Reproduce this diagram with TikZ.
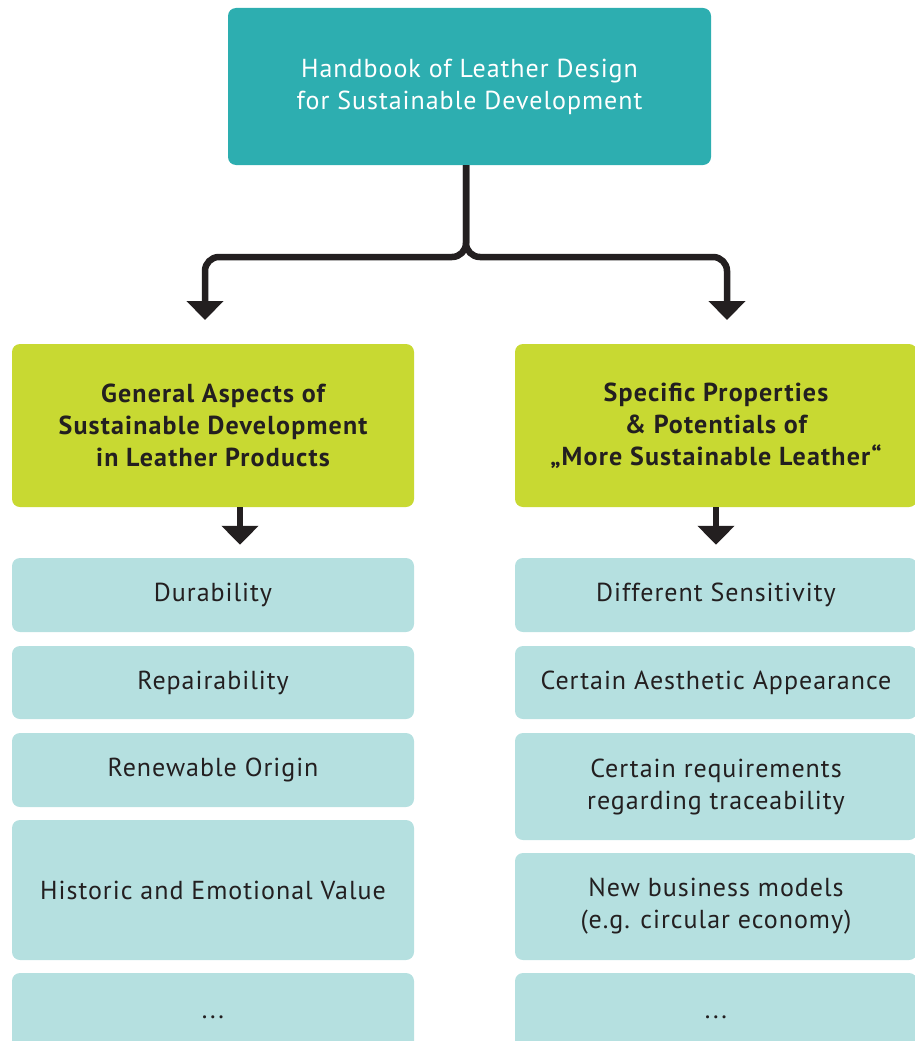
\documentclass[tikz,border=0pt]{standalone}
\usepackage{fontspec}
\setmainfont{PT Sans}[LetterSpace=3.8]
\newfontfamily\headfont{PT Sans}[LetterSpace=4.5]
\usetikzlibrary{arrows.meta,calc}
\definecolor{teal}{HTML}{2DAEB0}
\definecolor{lime}{HTML}{C8D932}
\definecolor{pale}{HTML}{B5E0E0}
\definecolor{ink}{HTML}{231F20}
\tikzset{
  box/.style={rectangle, rounded corners=8pt, inner sep=0pt, align=center, font=\fontsize{26}{32}\selectfont},
  topbox/.style={box, fill=teal, text=white, minimum width=483pt, minimum height=157pt},
  headbox/.style={box, fill=lime, text=ink, font=\headfont\fontsize{26}{32}\selectfont\bfseries, minimum width=402pt, minimum height=163pt},
  itembox/.style={box, fill=pale, text=ink, minimum width=402pt},
  bigarr/.style={draw=ink, line width=6.5pt, rounded corners=14pt, -{Triangle[width=36pt,length=19pt]}},
}
\begin{document}
\begin{tikzpicture}[x=1pt,y=-1pt]
\useasboundingbox (0,0) rectangle (915,1041);
\clip (0,0) rectangle (915,1041);
\node[topbox] (top) at (469.5,86.5) {Handbook of Leather Design\\for Sustainable Development};
\node[headbox] (gl) at (213,425.5) {General Aspects of\\Sustainable Development\\in Leather Products};
\node[headbox] (gr) at (716,425.5) {Specific Properties\\\& Potentials of\\„More Sustainable Leather“};
% left items
\node[itembox, minimum height=74pt] (l1) at (213,595) {Durability};
\node[itembox, minimum height=73pt] (l2) at (213,682.5) {Repairability};
\node[itembox, minimum height=74pt] (l3) at (213,770) {Renewable Origin};
\node[itembox, minimum height=140pt] (l4) at (213,890) {Historic and Emotional Value};
\node[itembox, minimum height=88pt] (l5) at (213,1017) {...};
% right items
\node[itembox, minimum height=74pt] (r1) at (716,595) {Different Sensitivity};
\node[itembox, minimum height=73pt] (r2) at (716,682.5) {Certain Aesthetic Appearance};
\node[itembox, minimum height=107pt] (r3) at (716,786.5) {Certain requirements\\regarding traceability};
\node[itembox, minimum height=107pt] (r4) at (716,906.5) {New business models\\(e.g. circular economy)};
\node[itembox, minimum height=88pt] (r5) at (716,1017) {...};
% connectors
\coordinate (jn) at (466,257);
\coordinate (tl) at (205,320);
\coordinate (tr) at (727,320);
\draw[bigarr] (top.south -| jn) -- (jn) -| (tl);
\draw[bigarr] (top.south -| jn) -- (jn) -| (tr);
\draw[bigarr] ($(gl.south)+(27,0)$) -- ($(l1.north)+(27,-13)$);
\draw[bigarr] (gr.south) -- ($(r1.north)+(0,-13)$);
\end{tikzpicture}
\end{document}
